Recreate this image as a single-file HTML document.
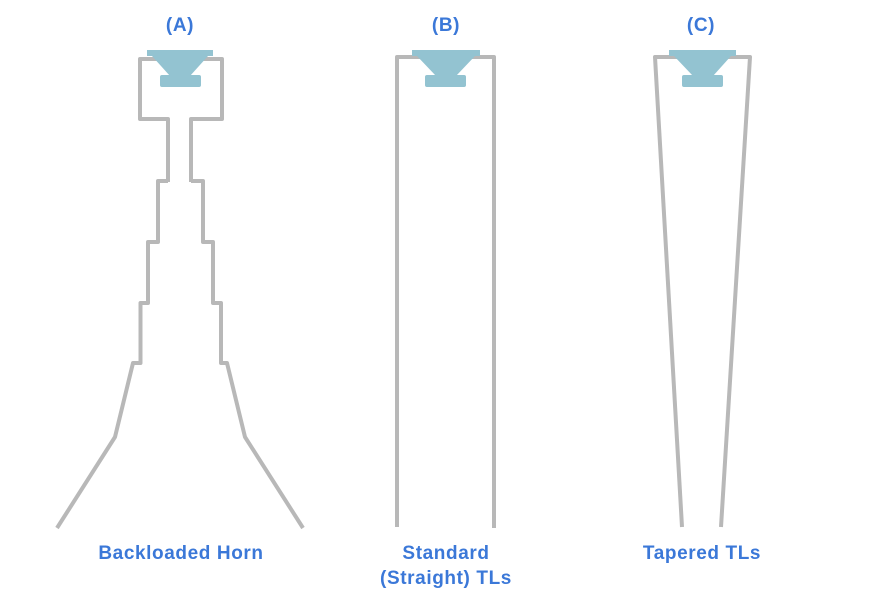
<!DOCTYPE html>
<html><head><style>body{margin:0;background:#fff}svg{display:block}</style></head><body>
<svg width="876" height="600" xmlns="http://www.w3.org/2000/svg">
<g fill="none" stroke="#b8b8b8" stroke-width="4" stroke-linejoin="round" stroke-linecap="butt">
<path d="M168,182 V119 H140 V59 H222 V119 H191 V182"/>
<path d="M168,181 H158 V242 H148 V303 H140.5 V363 H133 L115,437 L57,528"/>
<path d="M191,181 H203 V242 H213 V303 H221 V363 H227 L245,437 L303,528"/>
<path d="M397,527 V57 H494 V528"/>
<path d="M682,527 L655,57 H750 L721,527"/>
</g>
<g fill="#93c3d1">
<rect x="147" y="50" width="66" height="6"/><polygon points="152,56 208,56 190,76 170,76"/><rect x="160" y="75" width="41" height="12" rx="2"/>
<rect x="412" y="50" width="68" height="6"/><polygon points="417,56 475,56 456,76 436,76"/><rect x="425" y="75" width="41" height="12" rx="2"/>
<rect x="669" y="50" width="67" height="6"/><polygon points="674,56 731,56 713,76 693,76"/><rect x="682" y="75" width="41" height="12" rx="2"/>
</g>
<g font-family="Liberation Sans, sans-serif" font-weight="bold" font-size="19" letter-spacing="0.6" fill="#3b78d8" text-anchor="middle">
<text x="180" y="31">(A)</text>
<text x="446" y="31">(B)</text>
<text x="701" y="31">(C)</text>
<text x="181" y="559">Backloaded Horn</text>
<text x="446" y="559">Standard</text>
<text x="446" y="584">(Straight) TLs</text>
<text x="702" y="559">Tapered TLs</text>
</g>
</svg>
</body></html>
